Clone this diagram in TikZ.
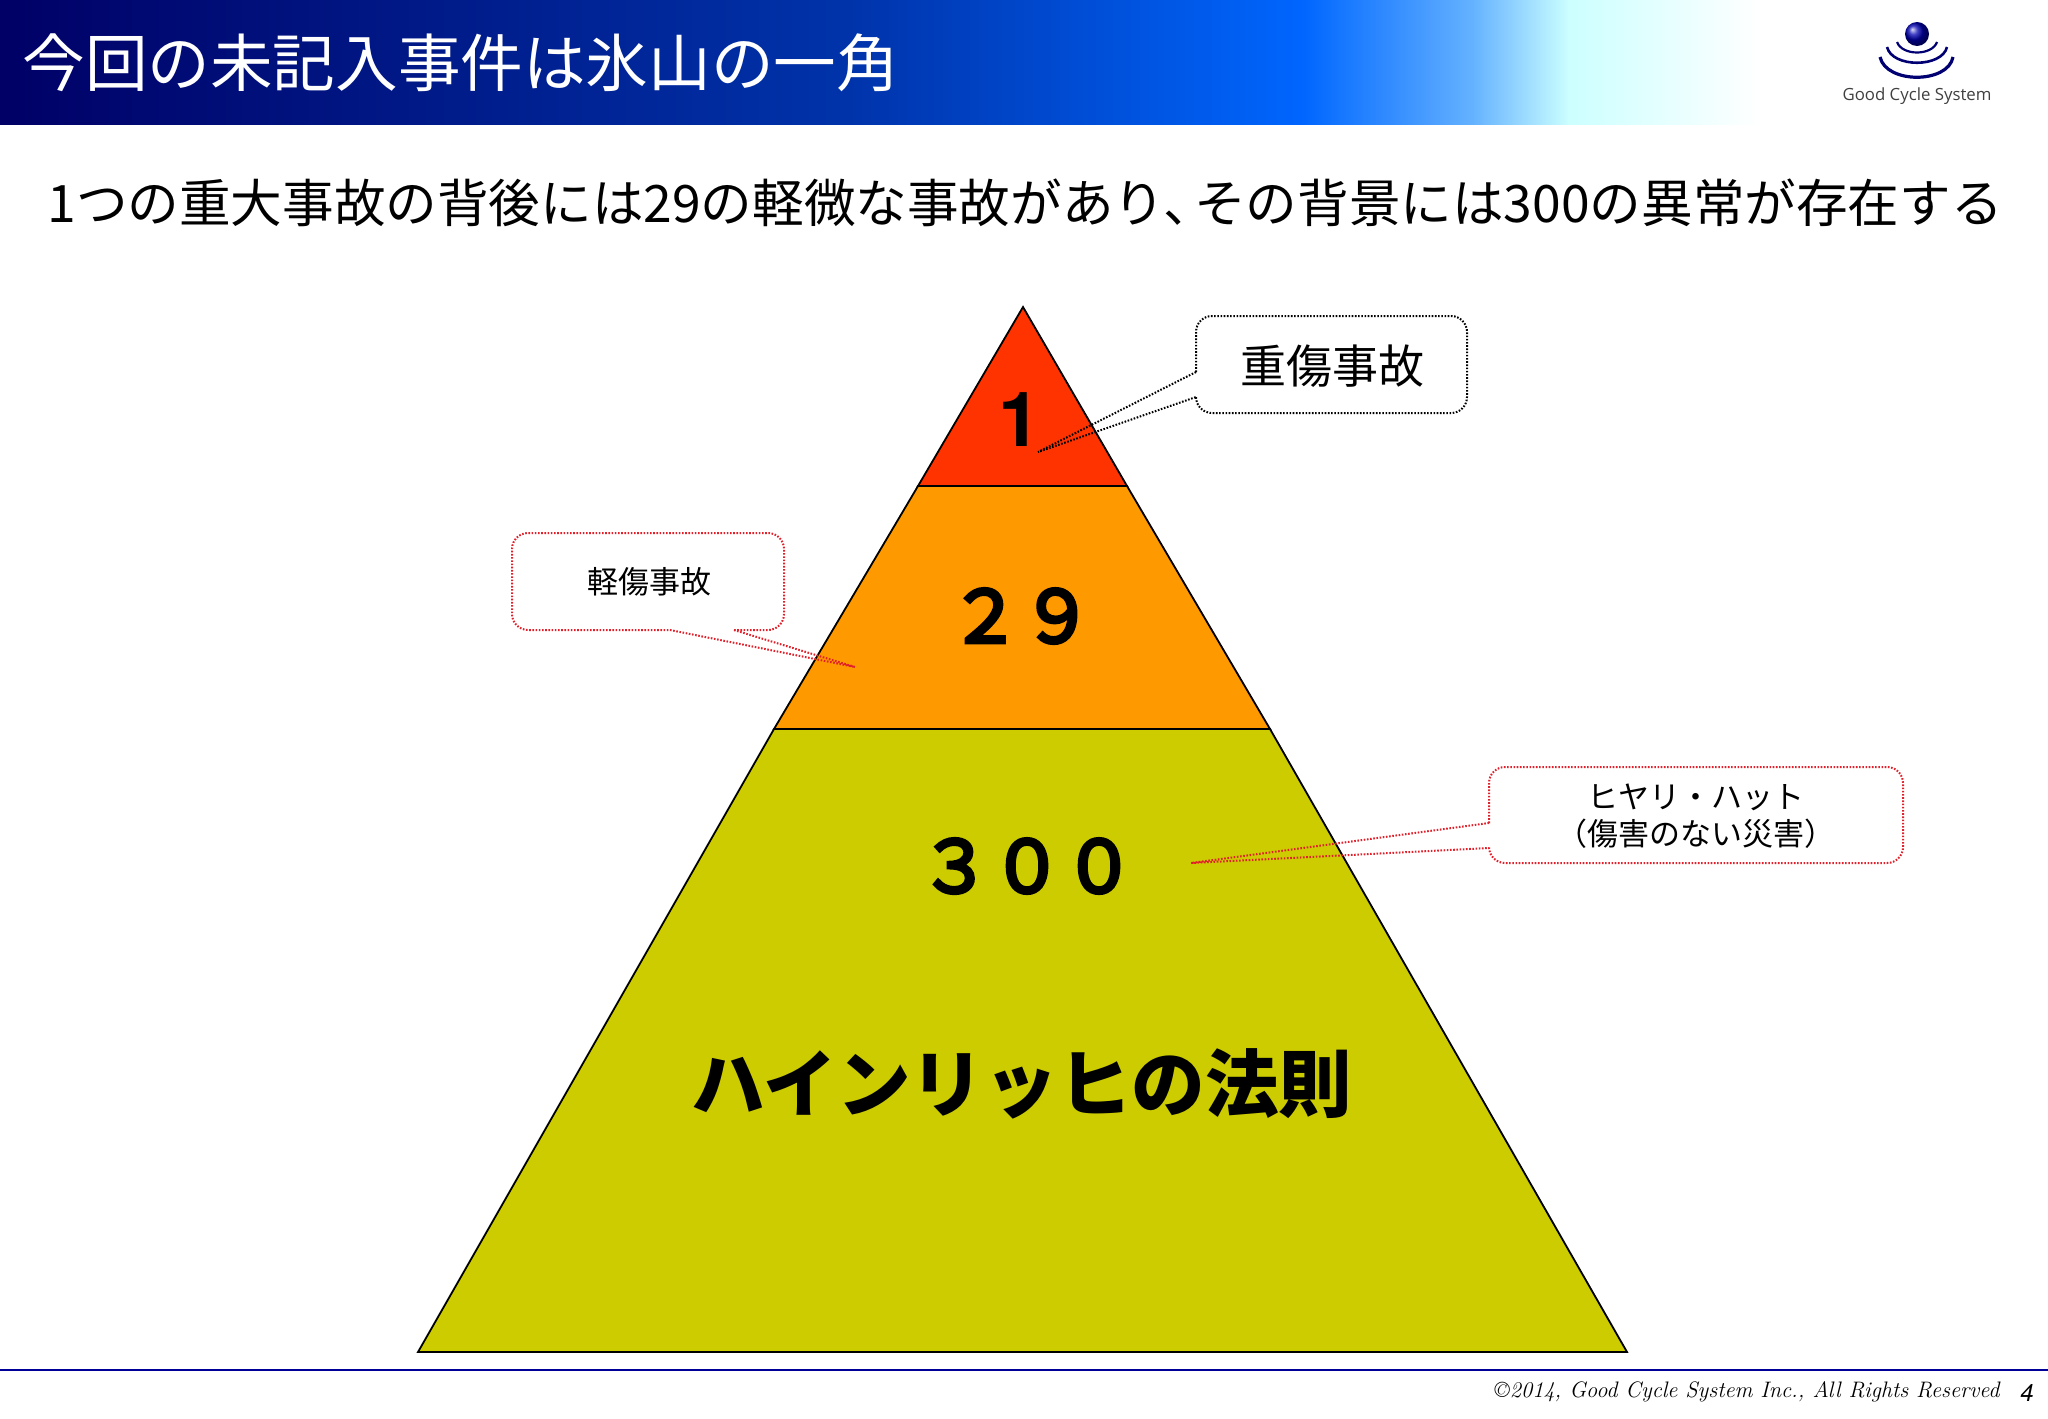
\documentclass[tikz,border=0pt]{standalone}
\usepackage{fontspec}
\usetikzlibrary{positioning}
\newfontfamily\jp{Noto Sans CJK JP}
\newfontfamily\jpmid[FakeBold=5]{Noto Sans CJK JP}
\newfontfamily\lat{TeX Gyre Heros}
\newfontfamily\logofont{Open Sans}
\definecolor{navyA}{HTML}{000066}
\definecolor{navyB}{HTML}{0033AA}
\definecolor{blueA}{HTML}{0066FF}
\definecolor{blueB}{HTML}{66B3FF}
\definecolor{cyanA}{HTML}{CCFFFF}
\definecolor{topred}{HTML}{FF3300}
\definecolor{midorange}{HTML}{FF9900}
\definecolor{lowolive}{HTML}{CCCC00}
\definecolor{dotred}{HTML}{E0202A}
\tikzset{
  tier/.style={draw=black,line width=0.9pt,line join=miter},
  count/.style={font=\jpmid\fontsize{36}{36}\selectfont,inner sep=0pt},
  bubble/.style={inner sep=0pt,align=center,font=\jp\fontsize{15.5}{18.5}\selectfont},
  outline/.style={line width=1pt,dash pattern=on 0.8pt off 0.8pt},
}

\begin{document}
\begin{tikzpicture}[x=0.5pt,y=-0.5pt]
    \useasboundingbox (0,0) rectangle (2048,1418);

    % header band
    \foreach \xa/\xb/\ca/\cb in {0/850/navyA/navyB,848/1306/navyB/blueA,1304/1476/blueA/blueB,1474/1570/blueB/cyanA,1568/1760/cyanA/white}
        \shade[left color=\ca,right color=\cb] (\xa,0) rectangle (\xb,124);
    \node[anchor=west,inner sep=0pt,text=white,font=\jp\fontsize{31.3}{31.3}\selectfont] (title) at (22,63) {今回の未記入事件は氷山の一角};

    % logo
    \shade[ball color=blue!70!black] (1917,34) circle [radius=12];
    \draw[line width=1.1pt,color=blue!45!black] (1897,42) .. controls (1902,56) and (1932,56) .. (1937,42);
    \draw[line width=1.3pt,color=blue!45!black] (1887,47) .. controls (1892,68) and (1942,68) .. (1947,47);
    \draw[line width=1.6pt,color=blue!45!black] (1880,57) .. controls (1886,84) and (1948,84) .. (1953,57);
    \node[inner sep=0pt,text=black!75,font=\logofont\fontsize{8.4}{8.4}\selectfont] (logo) at (1917,96) {Good Cycle System};

    \node[inner sep=0pt,font=\jp\fontsize{25.8}{25.8}\selectfont] (lead) at (1025,203) {1つの重大事故の背後には29の軽微な事故があり、\kern-.4em その背景には300の異常が存在する};

    % pyramid
    \coordinate (apex) at (1023,307);
    \coordinate (upL) at (918,486);
    \coordinate (upR) at (1127,486);
    \coordinate (midL) at (774,729);
    \coordinate (midR) at (1270,729);
    \coordinate (baseL) at (418,1352);
    \coordinate (baseR) at (1627,1352);
    \draw[tier,fill=lowolive] (midL) -- (midR) -- (baseR) -- (baseL) -- cycle;
    \draw[tier,fill=midorange] (upL) -- (upR) -- (midR) -- (midL) -- cycle;
    \draw[tier,fill=topred] (apex) -- (upR) -- (upL) -- cycle;

    \node[count,font=\lat\fontsize{38}{38}\bfseries\selectfont] (one) at (1020,420) {1};
    \node[count] (twentynine) at (1021,616) {２９};
    \node[count] (threehundred) at (1027,866) {３００};
    \node[count,font=\jp\fontsize{36.8}{36.8}\bfseries\selectfont] (law) at (1022,1084) {ハインリッヒの法則};

    % callouts
    \node[bubble,font=\jp\fontsize{23}{23}\selectfont] (severe) at (1332,366) {重傷事故};
    \node[bubble] (minor) at (649,582) {軽傷事故};
    \node[bubble] (nearmiss) at (1696,816) {ヒヤリ・ハット\\（傷害のない災害）};

    \coordinate (severeTip) at (1038,452);
    \coordinate (severeA) at (1196,372);
    \coordinate (severeB) at (1196,397);
    \draw[outline,black,rounded corners=8pt] (severeA) -- (1196,316) -- (1467,316) -- (1467,413) -- (1196,413) -- (severeB);
    \draw[outline,black] (severeA) -- (severeTip) -- (severeB);

    \coordinate (minorTip) at (855,667);
    \coordinate (minorA) at (670,630);
    \coordinate (minorB) at (734,630);
    \draw[outline,dotred,rounded corners=8pt] (minorB) -- (784,630) -- (784,533) -- (512,533) -- (512,630) -- (minorA);
    \draw[outline,dotred] (minorA) -- (minorTip) -- (minorB);

    \coordinate (nearmissTip) at (1191,863);
    \coordinate (nearmissA) at (1489,823);
    \coordinate (nearmissB) at (1489,848);
    \draw[outline,dotred,rounded corners=8pt] (nearmissA) -- (1489,767) -- (1903,767) -- (1903,863) -- (1489,863) -- (nearmissB);
    \draw[outline,dotred] (nearmissA) -- (nearmissTip) -- (nearmissB);

    % footer
    \coordinate (ruleL) at (0,1370);
    \coordinate (ruleR) at (2048,1370);
    \draw[line width=0.7pt,color=blue!60!black] (ruleL) -- (ruleR);
    \node[anchor=east,inner sep=0pt,font=\fontsize{11.2}{12}\itshape\selectfont] (copy) at (2000,1392) {\textcopyright 2014, Good Cycle System Inc., All Rights Reserved};
    \node[inner sep=0pt,font=\lat\fontsize{12}{12}\itshape\selectfont] (page) at (2027,1393) {4};
\end{tikzpicture}
\end{document}
